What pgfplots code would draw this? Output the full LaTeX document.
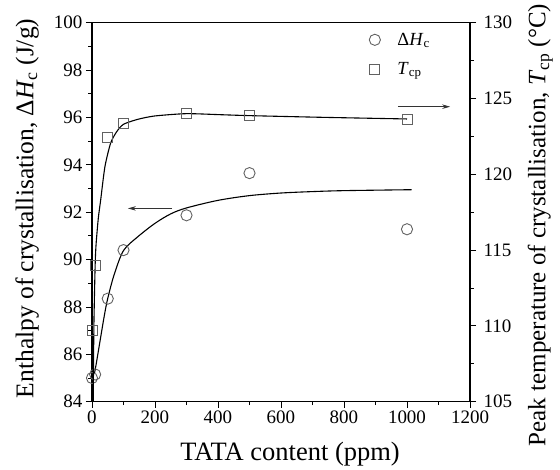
\documentclass[border=0pt]{standalone}
\usepackage{fontspec}
\setmainfont{Liberation Serif}
\usepackage{pgfplots}
\pgfplotsset{compat=1.18}
\usetikzlibrary{arrows.meta}
\definecolor{mk}{gray}{0.38}
\begin{document}
\begin{tikzpicture}
\path[use as bounding box] (-92pt,-67.3pt) rectangle (468pt,401.7pt);
\pgfplotsset{
  common/.style={
    width=378pt, height=379pt, scale only axis,
    xmin=0, xmax=1200,
    tick align=outside,
    major tick length=6pt, minor tick length=3.5pt,
    tick style={line width=0.9pt, black},
    axis line style={line width=1.1pt},
    /pgf/number format/assume math mode=true,
    /pgf/number format/1000 sep={},
    xticklabel style={font=\rmfamily\fontsize{19}{23}\selectfont},
    yticklabel style={font=\rmfamily\fontsize{19}{23}\selectfont},
    label style={font=\rmfamily\fontsize{25.5}{30}\selectfont, inner sep=0pt},
  }
}
\begin{axis}[common,
  ymin=84, ymax=100,
  ytick={84,86,...,100}, minor y tick num=1,
  xtick={0,200,...,1200}, minor x tick num=1,
  xtick pos=bottom, ytick pos=left,
  xlabel={TATA content (ppm)},
  xlabel style={font=\rmfamily\fontsize{26.5}{30}\selectfont, at={(axis description cs:0.524,0)}, anchor=base, yshift=-59pt},
  ylabel={Enthalpy of crystallisation, Δ\textit{H}\textsubscript{c} (J/g)},
  ylabel style={at={(axis description cs:-0.140,0.51)}, anchor=south},
  legend style={draw=none, fill=none, font=\rmfamily\fontsize{18.5}{22}\selectfont,
    at={(axis description cs:0.725,0.984)}, anchor=north west, row sep=11.5pt},
  legend cell align=left,
]
\addplot[black, line width=1.1pt, smooth, forget plot] coordinates {
(8,85.2) (15,85.72) (27,86.68) (40,87.7) (50,88.36) (70,89.35) (100,90.38)
(146,90.97) (200,91.53) (250,91.93) (300,92.18) (400,92.5) (500,92.7)
(600,92.81) (700,92.87) (800,92.91) (1015,92.95)};
\addplot[only marks, mark=o, mark size=5.6pt, mark options={draw=mk, line width=0.9pt}] coordinates {
(0,85.0) (10,85.15) (50,88.35) (100,90.4) (300,91.87) (500,93.65) (1000,91.28)};
\addlegendentry{\hspace{15pt}Δ\textit{H}\textsubscript{c}}
\addlegendimage{only marks, mark=square, mark size=5pt, mark options={draw=mk, fill=white, line width=0.9pt}}
\addlegendentry{\hspace{15pt}\textit{T}\textsubscript{cp}}
\draw[-{Stealth[length=8pt,width=4.5pt]}, line width=0.8pt, black!80] (axis cs:254,92.16) -- (axis cs:114,92.16);
\end{axis}
\begin{axis}[common,
  ymin=105, ymax=130,
  ytick={105,110,...,130}, minor y tick num=1,
  axis x line=none, axis y line*=right,
  yticklabel style={xshift=4pt},
  ylabel={Peak temperature of crystallisation, \textit{T}\textsubscript{cp} (°C)},
  ylabel style={font=\rmfamily\fontsize{25}{30}\selectfont, at={(axis description cs:1.2196,0.466)}, anchor=south},
]
\addplot[black, line width=1.1pt, smooth, tension=0.4] coordinates {
(4,105) (6,110) (10,114.0) (13,115.4) (20,117.1) (27.5,118.3) (41,120.5)
(59,122.05) (78,122.8) (100,123.3) (146,123.63) (200,123.85) (300,124.0)
(410,123.93) (500,123.87) (728,123.76) (1000,123.65)};
\addplot[only marks, mark=square, mark size=5pt, mark options={draw=mk, fill=white, line width=0.9pt}] coordinates {
(0,109.73) (10,114.0) (50,122.4) (100,123.35) (300,124.02) (500,123.87) (1000,123.65)};
\draw[-{Stealth[length=8pt,width=4.5pt]}, line width=0.8pt, black!80] (axis cs:971,124.46) -- (axis cs:1137,124.46);
\end{axis}
\end{tikzpicture}
\end{document}
